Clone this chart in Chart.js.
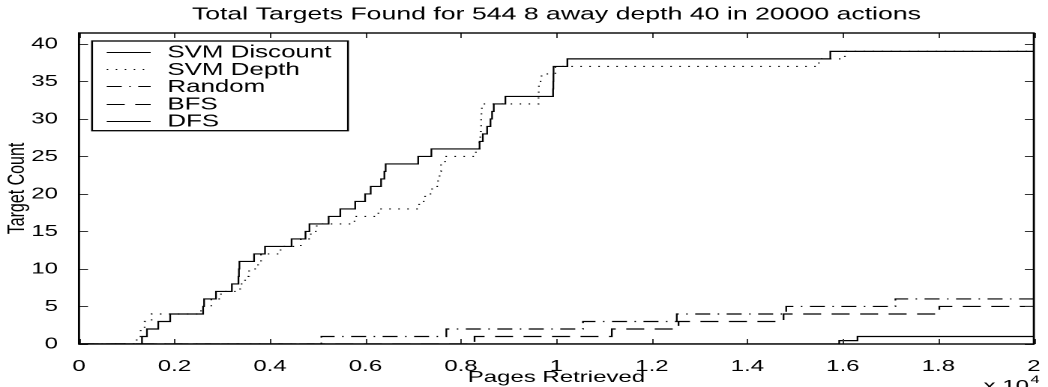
<!DOCTYPE html>
<html><head><meta charset="utf-8">
<script src="https://cdn.jsdelivr.net/npm/chart.js@4/dist/chart.umd.min.js"></script>
<style>
html,body{margin:0;padding:0;background:#fff;overflow:hidden}
#wrap{width:699px;height:387px;transform:scaleX(1.49928);transform-origin:0 0}
canvas{display:block}
</style></head>
<body><div id="wrap"><canvas id="c" width="699" height="387"></canvas></div>
<script>
const chartTitle = 'Total Targets Found for 544 8 away depth 40 in 20000 actions';
const xAxisTitle = 'Pages Retrieved';
const yAxisTitle = 'Target Count';
const xExponentBase = 'x 10';
const xExponent = '4';
const seriesNames = ['SVM Discount', 'SVM Depth', 'Random', 'BFS', 'DFS'];

const xTickValues = [0, 2000, 4000, 6000, 8000, 10000, 12000, 14000, 16000, 18000, 20000];
const xTickLabels = ['0', '0.2', '0.4', '0.6', '0.8', '1', '1.2', '1.4', '1.6', '1.8', '2'];
const yTickValues = [0, 5, 10, 15, 20, 25, 30, 35, 40];
const yTickLabels = ['0', '5', '10', '15', '20', '25', '30', '35', '40'];

const svmDiscountX = [0, 1319, 1423, 1660, 1910, 2600, 2620, 2869, 3202, 3340, 3350, 3360, 3667, 3896, 4452, 4744, 4827, 5229, 5473, 5785, 5993, 6110, 6327, 6396, 6423, 7104, 7381, 8390, 8458, 8548, 8619, 8652, 8688, 8931, 9930, 9935, 9938, 9940, 10229, 15737, 20000];
const svmDiscountY = [0, 1, 2, 3, 4, 5, 6, 7, 8, 9, 10, 11, 12, 13, 14, 15, 16, 17, 18, 19, 20, 21, 22, 23, 24, 25, 26, 27, 28, 29, 30, 31, 32, 33, 34, 35, 36, 37, 38, 39, 39];

const svmDepthX = [0, 1208, 1292, 1375, 1520, 2556, 2771, 2973, 3375, 3479, 3563, 3750, 3813, 4222, 4646, 4854, 4979, 5771, 6271, 7125, 7250, 7396, 7521, 7552, 7583, 7667, 8313, 8390, 8406, 8417, 8423, 8429, 8438, 9625, 9629, 9633, 9688, 9979, 15498, 16042, 20000];
const svmDepthY = [0, 1, 2, 3, 4, 5, 6, 7, 8, 9, 10, 11, 12, 13, 14, 15, 16, 17, 18, 19, 20, 21, 22, 23, 24, 25, 26, 27, 28, 29, 30, 31, 32, 33, 34, 35, 36, 37, 38, 39, 39];

const randomX = [0, 5076, 7694, 10556, 12521, 14813, 17100, 20000];
const randomY = [0, 1, 2, 3, 4, 5, 6, 6];

const bfsX = [0, 8285, 11160, 12558, 14758, 18020, 20000];
const bfsY = [0, 1, 2, 3, 4, 5, 5];

const dfsX = [0, 15923, 16306, 20000];
const dfsY = [0, 0.45, 1, 1];

const FONT = "'Liberation Sans', Arial, Helvetica, sans-serif";
const pts = (xs, ys) => xs.map((x, i) => ({x: x, y: ys[i]}));
const dashes = [[], [1, 5], [10, 5, 1, 5], [12, 7], []];
const colors = ['#000', '#000', '#000', '#000', '#000'];
const seriesData = [
  pts(svmDiscountX, svmDiscountY),
  pts(svmDepthX, svmDepthY),
  pts(randomX, randomY),
  pts(bfsX, bfsY),
  pts(dfsX, dfsY)
];

const datasets = seriesNames.map((name, i) => ({
  label: name,
  data: seriesData[i],
  borderColor: colors[i],
  borderWidth: 1.15,
  borderDash: dashes[i],
  stepped: 'before',
  pointRadius: 0,
  fill: false,
  tension: 0
}));

const decor = {
  id: 'decor',
  beforeDraw(chart) {
    const ctx = chart.ctx;
    ctx.save();
    ctx.fillStyle = '#fff';
    ctx.fillRect(0, 0, chart.width, chart.height);
    ctx.restore();
  },
  afterDatasetsDraw(chart) {
    const ctx = chart.ctx;
    const a = chart.chartArea;
    const xs = chart.scales.x, ys = chart.scales.y;
    ctx.save();
    // ticks (inward)
    ctx.strokeStyle = '#333';
    ctx.lineWidth = 1;
    ctx.beginPath();
    xTickValues.forEach(v => {
      const px = Math.round(xs.getPixelForValue(v)) + 0.5;
      ctx.moveTo(px, a.bottom); ctx.lineTo(px, a.bottom - 5);
      ctx.moveTo(px, a.top); ctx.lineTo(px, a.top + 5);
    });
    yTickValues.forEach(v => {
      const py = Math.round(ys.getPixelForValue(v)) + 0.5;
      ctx.moveTo(a.left, py); ctx.lineTo(a.left + 6, py);
      ctx.moveTo(a.right, py); ctx.lineTo(a.right - 6, py);
    });
    ctx.stroke();
    // box
    ctx.strokeStyle = '#000';
    ctx.lineWidth = 1.4;
    ctx.strokeRect(a.left, a.top, a.right - a.left, a.bottom - a.top);

    // legend
    const lx0 = 61.4, lx1 = 232.1, ly0 = 41, ly1 = 130.7;
    ctx.fillStyle = '#fff';
    ctx.fillRect(lx0, ly0, lx1 - lx0, ly1 - ly0);
    ctx.lineWidth = 1.3;
    ctx.strokeStyle = '#000';
    ctx.strokeRect(lx0, ly0, lx1 - lx0, ly1 - ly0);
    const rows = [51.7, 69, 86.3, 103.5, 120.7];
    ctx.font = '17.3px ' + FONT;
    ctx.textBaseline = 'middle';
    ctx.textAlign = 'left';
    chart.data.datasets.forEach((ds, i) => {
      const y = rows[i];
      ctx.beginPath();
      ctx.setLineDash(ds.borderDash || []);
      ctx.strokeStyle = ds.borderColor;
      ctx.lineWidth = 1;
      ctx.moveTo(71.2, Math.round(y) + 0.5);
      ctx.lineTo(100.5, Math.round(y) + 0.5);
      ctx.stroke();
      ctx.setLineDash([]);
      ctx.fillStyle = '#000';
      ctx.fillText(ds.label, 111.6, y + 1);
    });

    // title
    ctx.font = '17.8px ' + FONT;
    ctx.textAlign = 'center';
    ctx.textBaseline = 'alphabetic';
    ctx.fillStyle = '#000';
    ctx.fillText(chartTitle, (a.left + a.right) / 2, 19.5);

    // exponent label
    ctx.textAlign = 'left';
    ctx.font = '16px ' + FONT;
    ctx.fillText(xExponentBase, 656, 391);
    const w = ctx.measureText(xExponentBase).width;
    ctx.font = '11px ' + FONT;
    ctx.fillText(xExponent, 656 + w + 1, 383);
    ctx.restore();
  }
};

new Chart(document.getElementById('c'), {
  type: 'line',
  data: { datasets: datasets },
  options: {
    responsive: false,
    animation: false,
    devicePixelRatio: 2,
    layout: { padding: { top: 33, left: 0, right: 5.34, bottom: 0 } },
    plugins: { legend: { display: false }, title: { display: false }, tooltip: { enabled: false } },
    scales: {
      x: {
        type: 'linear',
        min: 0, max: 20000,
        grid: { display: false },
        border: { display: false },
        afterBuildTicks: s => { s.ticks = xTickValues.map(v => ({value: v})); },
        afterFit: s => { s.height = 43; },
        ticks: {
          padding: 5,
          color: '#000',
          font: { family: FONT, size: 16 },
          maxRotation: 0,
          autoSkip: false,
          callback: (v) => { const i = xTickValues.indexOf(v); return i >= 0 ? xTickLabels[i] : ''; }
        },
        title: { display: true, text: xAxisTitle, color: '#000', font: { family: FONT, size: 16 }, padding: { top: 0, bottom: 0 } }
      },
      y: {
        type: 'linear',
        min: 0, max: 41.45,
        grid: { display: false },
        border: { display: false },
        afterBuildTicks: s => { s.ticks = yTickValues.map(v => ({value: v})); },
        afterFit: s => { s.width = 52.69; },
        ticks: {
          padding: 6,
          color: '#000',
          font: { family: FONT, size: 16 },
          autoSkip: false,
          callback: (v) => { const i = yTickValues.indexOf(v); return i >= 0 ? yTickLabels[i] : ''; }
        },
        title: { display: true, text: yAxisTitle, color: '#000', font: { family: FONT, size: 16 }, padding: { top: 2, bottom: 0 } }
      }
    }
  },
  plugins: [decor]
});
</script>
</body></html>
